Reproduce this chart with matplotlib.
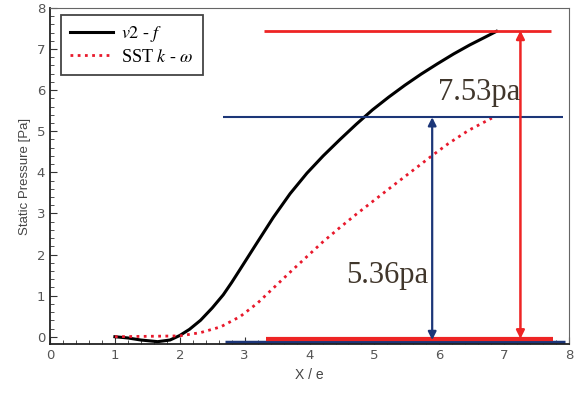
import matplotlib
matplotlib.use('Agg')
import matplotlib.pyplot as plt
from matplotlib.ticker import MultipleLocator

# v2-f curve
x_v2f = [1.0, 1.2, 1.4, 1.66, 1.85, 2.0, 2.15, 2.32, 2.5, 2.67, 2.8, 2.93, 3.18,
         3.44, 3.70, 3.96, 4.21, 4.47, 4.72, 4.97, 5.22, 5.47, 5.72, 5.97,
         6.22, 6.47, 6.72, 6.88]
y_v2f = [0.0, -0.03, -0.08, -0.12, -0.08, 0.03, 0.18, 0.4, 0.7, 1.02, 1.32, 1.64, 2.26,
         2.9, 3.48, 3.98, 4.4, 4.8, 5.17, 5.52, 5.83, 6.12, 6.39, 6.64,
         6.88, 7.1, 7.3, 7.43]

# SST k-omega curve
x_sst = [1.0, 1.5, 2.0, 2.32, 2.63, 2.93, 3.2, 3.44, 3.7, 3.96, 4.2, 4.47,
         4.72, 4.98, 5.29, 5.62, 5.9, 6.14, 6.45, 6.81]
y_sst = [0.0, 0.01, 0.02, 0.1, 0.24, 0.49, 0.82, 1.18, 1.57, 1.95, 2.3, 2.66,
         2.98, 3.3, 3.68, 4.08, 4.42, 4.7, 5.02, 5.32]

# reference lines: (y, xstart, xend)
red_top = (7.45, 3.3, 7.72)
red_bot = (-0.05, 3.33, 7.75)
blue_top = (5.34, 2.66, 7.9)
blue_bot = (-0.13, 2.69, 7.93)

# arrows
red_arrow_x = 7.25
blue_arrow_x = 5.89

labels = ['7.53pa', '5.36pa']
label_pos = [(6.61, 5.93), (5.19, 1.48)]

plt.rcParams['mathtext.fontset'] = 'stix'

fig = plt.figure(figsize=(5.8, 3.96), dpi=100)
ax = fig.add_axes([0.0862, 0.131, 0.895, 0.849])

ax.plot(x_v2f, y_v2f, color='black', lw=2.2, label=r'$v2$ - $f$')
ax.plot(x_sst, y_sst, color='#e8192c', lw=2.0, ls=(0, (1, 1.6)),
        label=r'SST $k$ - $\omega$')

ax.hlines(red_top[0], red_top[1], red_top[2], color='#ee2424', lw=2)
ax.hlines(blue_top[0], blue_top[1], blue_top[2], color='#1c3678', lw=1.5)
ax.hlines(blue_bot[0], blue_bot[1], blue_bot[2], color='#1c3678', lw=2.5)
ax.hlines(red_bot[0], red_bot[1], red_bot[2], color='#ee2424', lw=3)

ax.annotate('', xy=(red_arrow_x, red_top[0]), xytext=(red_arrow_x, red_bot[0]),
            arrowprops=dict(arrowstyle='<|-|>', color='#ee2424', lw=1.8,
                            mutation_scale=12, shrinkA=0, shrinkB=0))
ax.annotate('', xy=(blue_arrow_x, blue_top[0]), xytext=(blue_arrow_x, blue_bot[0] + 0.05),
            arrowprops=dict(arrowstyle='<|-|>', color='#1c3678', lw=1.6,
                            mutation_scale=12, shrinkA=0, shrinkB=0))

for t, (tx, ty) in zip(labels, label_pos):
    ax.text(tx, ty, t, fontsize=22, family='Liberation Serif', color='#40362b',
            ha='center', va='center')

ax.set_xlim(0, 8)
ax.set_ylim(-0.18, 8)
ax.xaxis.set_major_locator(MultipleLocator(1))
ax.xaxis.set_minor_locator(MultipleLocator(0.2))
ax.yaxis.set_major_locator(MultipleLocator(1))
ax.yaxis.set_minor_locator(MultipleLocator(0.2))
ax.tick_params(which='both', direction='in', colors='#333333', labelcolor='#555555',
               labelsize=9.5, top=False, right=False)
ax.tick_params(which='major', length=5)
ax.tick_params(which='minor', length=3)
for s in ax.spines.values():
    s.set_color('#666666')
ax.spines['left'].set_color('#222222')
ax.spines['bottom'].set_color('#222222')
ax.spines['left'].set_linewidth(1.3)
ax.spines['bottom'].set_linewidth(1.3)

ax.set_xlabel('X / e', fontsize=10, color='#444444', family='Liberation Sans')
ax.set_ylabel('Static Pressure [Pa]', fontsize=9.5, color='#444444', family='Liberation Sans')

leg = ax.legend(loc='upper left', bbox_to_anchor=(0.021, 0.979), borderaxespad=0,
                prop={'family': 'Liberation Serif', 'size': 13},
                fancybox=False, framealpha=1, edgecolor='#444444',
                handlelength=2.4, handletextpad=0.45, labelspacing=0.25,
                borderpad=0.5)
leg.get_frame().set_linewidth(1.3)

fig.savefig('out.png', dpi=100)
